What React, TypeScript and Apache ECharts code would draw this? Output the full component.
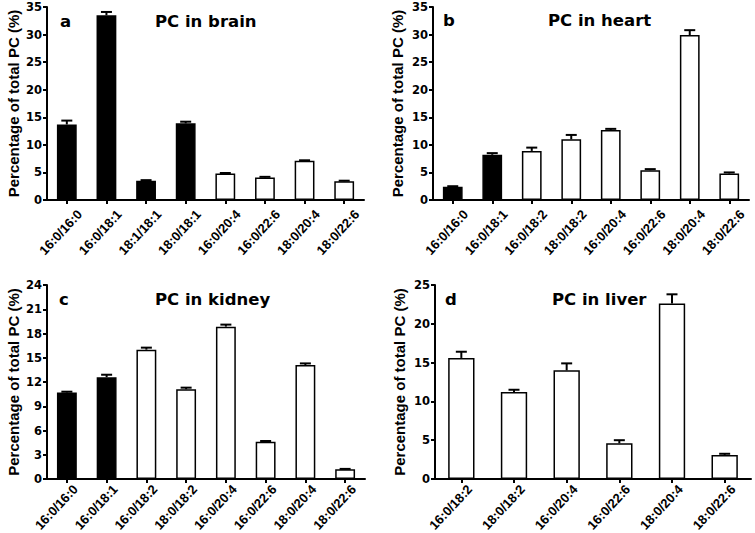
import React, { useEffect, useRef } from "react";
import * as echarts from "echarts";

const catsA = ["16:0/16:0", "16:0/18:1", "18:1/18:1", "18:0/18:1", "16:0/20:4", "16:0/22:6", "18:0/20:4", "18:0/22:6"];
const meanA = [13.7, 33.5, 3.5, 13.9, 4.8, 4.1, 7.1, 3.4];
const upA = [14.4, 34.1, 3.6, 14.2, 4.9, 4.2, 7.2, 3.5];
const darkA = 4;

const catsB = ["16:0/16:0", "16:0/18:1", "16:0/18:2", "18:0/18:2", "16:0/20:4", "16:0/22:6", "18:0/20:4", "18:0/22:6"];
const meanB = [2.4, 8.2, 8.9, 11.0, 12.7, 5.4, 29.9, 4.8];
const upB = [2.5, 8.5, 9.5, 11.8, 12.9, 5.6, 30.8, 5.0];
const darkB = 2;

const catsC = ["16:0/16:0", "16:0/18:1", "16:0/18:2", "18:0/18:2", "16:0/20:4", "16:0/22:6", "18:0/20:4", "18:0/22:6"];
const meanC = [10.7, 12.6, 16.0, 11.1, 18.85, 4.6, 14.1, 1.2];
const upC = [10.8, 12.9, 16.25, 11.3, 19.1, 4.7, 14.3, 1.25];
const darkC = 2;

const catsD = ["16:0/18:2", "18:0/18:2", "16:0/20:4", "16:0/22:6", "18:0/20:4", "18:0/22:6"];
const meanD = [15.6, 11.2, 14.0, 4.6, 22.6, 3.1];
const upD = [16.4, 11.5, 14.9, 5.0, 23.8, 3.25];
const darkD = 0;

const yMax = [35, 35, 24, 25];
const yStep = [5, 5, 3, 5];
const titles = ["PC in brain", "PC in heart", "PC in kidney", "PC in liver"];
const letters = ["a", "b", "c", "d"];
const yName = "Percentage of total PC (%)";

const grids = [
  { left: 47, top: 7, width: 317, height: 193 },
  { left: 433, top: 7, width: 316, height: 193 },
  { left: 47, top: 285, width: 318, height: 194 },
  { left: 435, top: 285, width: 316, height: 194 },
];
const labelPad = [11, 11, 5, 5];
const titlePos = [
  { lx: 60, tx: 155, y: 21 },
  { lx: 443, tx: 548, y: 20 },
  { lx: 59, tx: 155, y: 299 },
  { lx: 445, tx: 552, y: 299 },
];
const yNameX = [13, 397, 13, 399];

const TICK_FONT = "'DejaVu Sans', sans-serif";
const ARIAL = "'Liberation Sans', Arial, sans-serif";

export default function App() {
  const ref = useRef<HTMLDivElement>(null);
  useEffect(() => {
    if (!ref.current) return;
    const chart = echarts.init(ref.current, null, { renderer: "svg" });
    const panels = [
      { cats: catsA, mean: meanA, up: upA, dark: darkA },
      { cats: catsB, mean: meanB, up: upB, dark: darkB },
      { cats: catsC, mean: meanC, up: upC, dark: darkC },
      { cats: catsD, mean: meanD, up: upD, dark: darkD },
    ];
    const xAxis: any[] = [];
    const yAxis: any[] = [];
    const series: any[] = [];
    const graphic: any[] = [];
    panels.forEach((p, i) => {
      xAxis.push({
        type: "category",
        gridIndex: i,
        data: p.cats,
        boundaryGap: true,
        axisLine: { show: true, lineStyle: { color: "#000", width: 2 } },
        axisTick: { show: true, alignWithLabel: true, length: 4, lineStyle: { color: "#000", width: 2 } },
        axisLabel: {
          rotate: 47,
          interval: 0,
          margin: 0,
          verticalAlign: "top",
          padding: [labelPad[i], 0, 0, 0],
          color: "#000",
          fontFamily: ARIAL,
          fontWeight: "bold",
          fontSize: 13,
        },
        splitLine: { show: false },
      });
      yAxis.push({
        type: "value",
        gridIndex: i,
        min: 0,
        max: yMax[i],
        interval: yStep[i],
        axisLine: { show: true, lineStyle: { color: "#000", width: 2 } },
        axisTick: { show: true, length: 4, lineStyle: { color: "#000", width: 2 } },
        axisLabel: {
          margin: 5,
          color: "#000",
          fontFamily: TICK_FONT,
          fontWeight: "bold",
          fontSize: 11.5,
        },
        splitLine: { show: false },
      });
      series.push({
        type: "bar",
        xAxisIndex: i,
        yAxisIndex: i,
        barWidth: "50%",
        data: p.mean.map((v, j) => ({
          value: v,
          itemStyle: {
            color: j < p.dark ? "#000" : "#fff",
            borderColor: "#000",
            borderWidth: 1.5,
          },
        })),
        z: 2,
      });
      series.push({
        type: "custom",
        xAxisIndex: i,
        yAxisIndex: i,
        z: 3,
        data: p.mean.map((v, j) => [j, v, p.up[j]]),
        encode: { x: 0, y: [1, 2] },
        renderItem: (params: any, api: any) => {
          const idx = api.value(0);
          const a = api.coord([idx, api.value(1)]);
          const b = api.coord([idx, api.value(2)]);
          const hw = 5.5;
          return {
            type: "group",
            children: [
              { type: "line", shape: { x1: a[0], y1: a[1], x2: b[0], y2: b[1] }, style: { stroke: "#000", lineWidth: 2 } },
              { type: "line", shape: { x1: b[0] - hw, y1: b[1], x2: b[0] + hw, y2: b[1] }, style: { stroke: "#000", lineWidth: 2 } },
            ],
          };
        },
      });
      const g = grids[i];
      graphic.push({
        type: "text",
        x: titlePos[i].lx,
        y: titlePos[i].y,
        style: { text: letters[i], fontFamily: TICK_FONT, fontWeight: "bold", fontSize: 16.5, fill: "#000", align: "left", verticalAlign: "middle" },
      });
      graphic.push({
        type: "text",
        x: titlePos[i].tx,
        y: titlePos[i].y,
        style: { text: titles[i], fontFamily: TICK_FONT, fontWeight: "bold", fontSize: 16.5, fill: "#000", align: "left", verticalAlign: "middle" },
      });
      graphic.push({
        type: "text",
        x: yNameX[i],
        y: g.top + g.height / 2,
        rotation: Math.PI / 2,
        style: { text: yName, fontFamily: ARIAL, fontWeight: "bold", fontSize: 15, fill: "#000", align: "center", verticalAlign: "middle" },
      });
    });
    chart.setOption({
      animation: false,
      backgroundColor: "#fff",
      grid: grids.map((g) => ({ ...g, containLabel: false, outerBoundsMode: "none" })),
      xAxis,
      yAxis,
      series,
      graphic,
    });
    return () => chart.dispose();
  }, []);
  return <div ref={ref} style={{ position: "fixed", left: 0, top: 0, width: 755, height: 533 }} />;
}
